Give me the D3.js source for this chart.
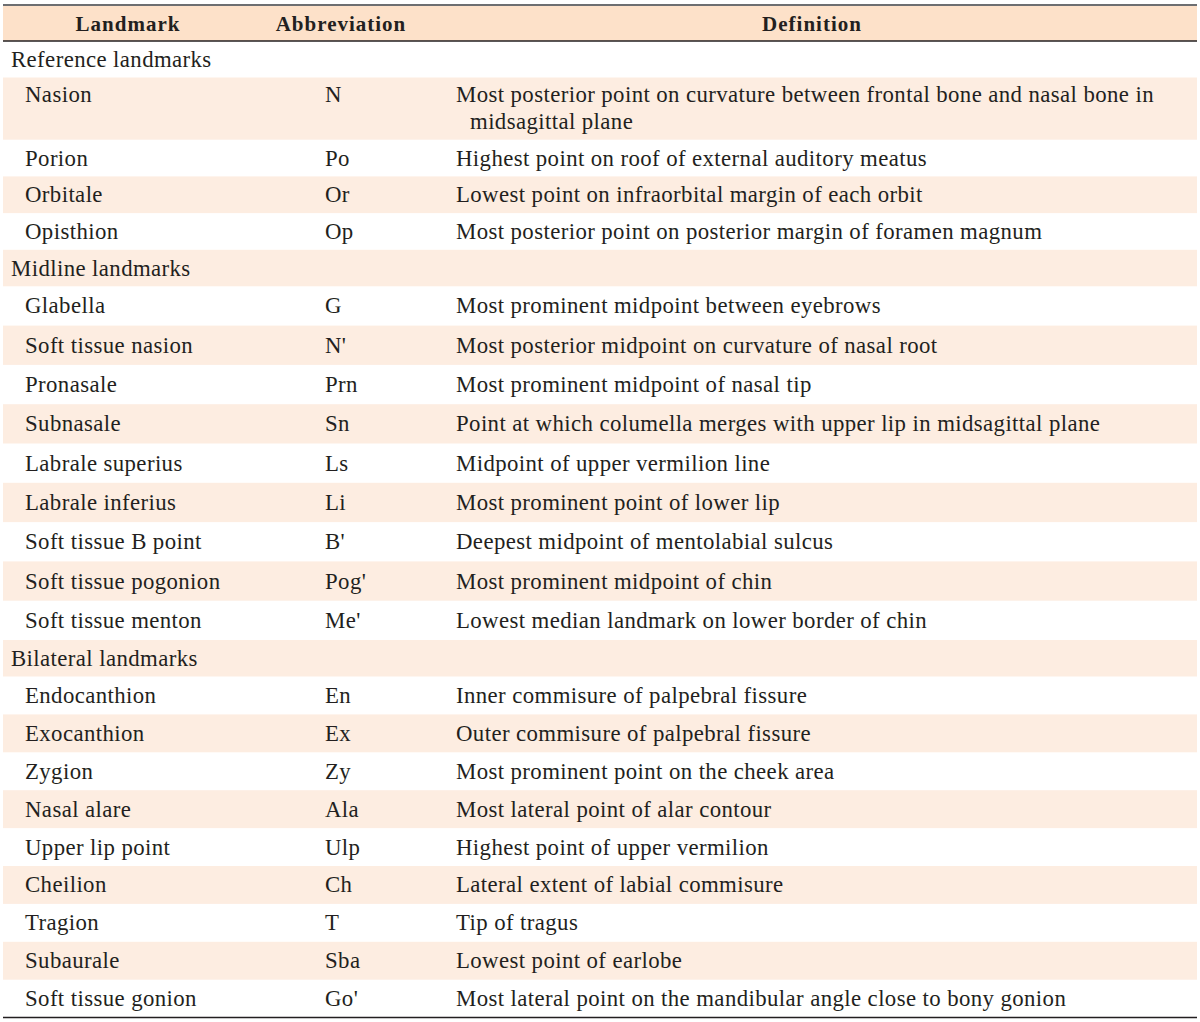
<!DOCTYPE html>
<html>
<head>
<meta charset="utf-8">
<script src="https://cdn.jsdelivr.net/npm/d3@7"></script>
<style>
  html, body { margin: 0; padding: 0; background: #ffffff; }
  svg { display: block; }
</style>
</head>
<body>
<svg id="chart" width="1200" height="1022"></svg>
<script>
// ---------------- DATA ----------------
const headers = ["Landmark", "Abbreviation", "Definition"];
const sections = ["Reference landmarks", "Midline landmarks", "Bilateral landmarks"];
const sectionIndex = [0,0,0,0, 1,1,1,1,1,1,1,1,1, 2,2,2,2,2,2,2,2,2];
const landmarks = [
  "Nasion", "Porion", "Orbitale", "Opisthion",
  "Glabella", "Soft tissue nasion", "Pronasale", "Subnasale", "Labrale superius",
  "Labrale inferius", "Soft tissue B point", "Soft tissue pogonion", "Soft tissue menton",
  "Endocanthion", "Exocanthion", "Zygion", "Nasal alare", "Upper lip point",
  "Cheilion", "Tragion", "Subaurale", "Soft tissue gonion"
];
const abbreviations = [
  "N", "Po", "Or", "Op",
  "G", "N'", "Prn", "Sn", "Ls", "Li", "B'", "Pog'", "Me'",
  "En", "Ex", "Zy", "Ala", "Ulp", "Ch", "T", "Sba", "Go'"
];
const definitions = [
  "Most posterior point on curvature between frontal bone and nasal bone in midsagittal plane",
  "Highest point on roof of external auditory meatus",
  "Lowest point on infraorbital margin of each orbit",
  "Most posterior point on posterior margin of foramen magnum",
  "Most prominent midpoint between eyebrows",
  "Most posterior midpoint on curvature of nasal root",
  "Most prominent midpoint of nasal tip",
  "Point at which columella merges with upper lip in midsagittal plane",
  "Midpoint of upper vermilion line",
  "Most prominent point of lower lip",
  "Deepest midpoint of mentolabial sulcus",
  "Most prominent midpoint of chin",
  "Lowest median landmark on lower border of chin",
  "Inner commisure of palpebral fissure",
  "Outer commisure of palpebral fissure",
  "Most prominent point on the cheek area",
  "Most lateral point of alar contour",
  "Highest point of upper vermilion",
  "Lateral extent of labial commisure",
  "Tip of tragus",
  "Lowest point of earlobe",
  "Most lateral point on the mandibular angle close to bony gonion"
];

// ---------------- LAYOUT / STYLE ----------------
const tableLeft = 3, tableRight = 1197;
const topLineY = 5, headerBottom = 41;
const sectionHeaderH = 36.5;
const itemRowH = [36.7, 39.3, 37.9];   // per-section item row height
const extraLineH = 25.5;
const lineGap = 27;
const wrapWidth = 740;
const font = "'Liberation Serif', 'Times New Roman', serif";
const fontSize = 22.8;
const letterSp = 0.4;
const textColor = "#231f20";
const headerFill = "#fde1c9";
const stripeFill = "#fdede1";
const colHeaderX = [128, 341, 812];
const xSection = 11, xLandmark = 25, xAbbr = 325, xDef = 456, xDefIndent = 470;

const svg = d3.select("#chart");

// measuring helper for wrapping
const measure = svg.append("text").attr("font-family", font).attr("font-size", fontSize)
  .attr("letter-spacing", letterSp).attr("visibility", "hidden");
function textWidth(s) { measure.text(s); return measure.node().getComputedTextLength(); }
function wrap(s) {
  const words = s.split(" ");
  const lines = [];
  let cur = "";
  words.forEach(w => {
    const t = cur ? cur + " " + w : w;
    if (cur && textWidth(t) > wrapWidth) { lines.push(cur); cur = w; } else cur = t;
  });
  if (cur) lines.push(cur);
  return lines;
}

// build rows (section rows + item rows)
const rows = [];
let lastSec = -1;
landmarks.forEach((lm, i) => {
  const s = sectionIndex[i];
  if (s !== lastSec) {
    rows.push({ type: "section", sec: s, label: sections[s], lines: [""] });
    lastSec = s;
  }
  rows.push({ type: "item", sec: s, label: lm, abbr: abbreviations[i], lines: wrap(definitions[i]) });
});
let y = headerBottom;
rows.forEach((r, i) => {
  r.h = (r.type === "section" ? sectionHeaderH : itemRowH[r.sec]) + (r.lines.length - 1) * extraLineH;
  r.y0 = y; y += r.h;
  r.stripe = i % 2 === 1;
});
const tableBottom = y;
measure.remove();

// header background
svg.append("rect").attr("x", tableLeft).attr("y", topLineY).attr("width", tableRight - tableLeft)
  .attr("height", headerBottom - topLineY).attr("fill", headerFill);

// stripes
svg.append("g").selectAll("rect").data(rows.filter(r => r.stripe)).join("rect")
  .attr("x", tableLeft).attr("y", d => d.y0).attr("width", tableRight - tableLeft)
  .attr("height", d => d.h).attr("fill", stripeFill);

// header text
svg.append("g").selectAll("text").data(headers).join("text")
  .attr("x", (d, i) => colHeaderX[i]).attr("y", 31)
  .attr("text-anchor", "middle")
  .attr("font-family", font).attr("font-size", 21).attr("font-weight", "bold")
  .attr("letter-spacing", 1)
  .attr("fill", textColor)
  .text(d => d);

// body text
const g = svg.append("g").attr("font-family", font).attr("font-size", fontSize)
  .attr("letter-spacing", letterSp).attr("fill", textColor);
const singleBase = r => r.lines.length === 1 ? r.y0 + r.h / 2 + 7.5 : r.y0 + 24;

g.selectAll("text.sec").data(rows.filter(r => r.type === "section")).join("text")
  .attr("class", "sec").attr("x", xSection).attr("y", singleBase).text(d => d.label);

const items = rows.filter(r => r.type === "item");
g.selectAll("text.lm").data(items).join("text")
  .attr("class", "lm").attr("x", xLandmark).attr("y", singleBase).text(d => d.label);
g.selectAll("text.ab").data(items).join("text")
  .attr("class", "ab").attr("x", xAbbr).attr("y", singleBase).text(d => d.abbr);
g.selectAll("text.def").data(items).join("text")
  .attr("class", "def").attr("y", singleBase)
  .each(function(d) {
    const t = d3.select(this);
    d.lines.forEach((ln, k) => {
      t.append("tspan").attr("x", k === 0 ? xDef : xDefIndent)
        .attr("y", singleBase(d) + k * lineGap).text(ln);
    });
  });

// rules
svg.append("line").attr("x1", tableLeft).attr("x2", tableRight).attr("y1", topLineY).attr("y2", topLineY)
  .attr("stroke", "#6d6e71").attr("stroke-width", 2);
svg.append("line").attr("x1", tableLeft).attr("x2", tableRight).attr("y1", headerBottom).attr("y2", headerBottom)
  .attr("stroke", textColor).attr("stroke-width", 1.5);
svg.append("line").attr("x1", tableLeft).attr("x2", tableRight).attr("y1", tableBottom).attr("y2", tableBottom)
  .attr("stroke", textColor).attr("stroke-width", 1.5);
</script>
</body>
</html>
